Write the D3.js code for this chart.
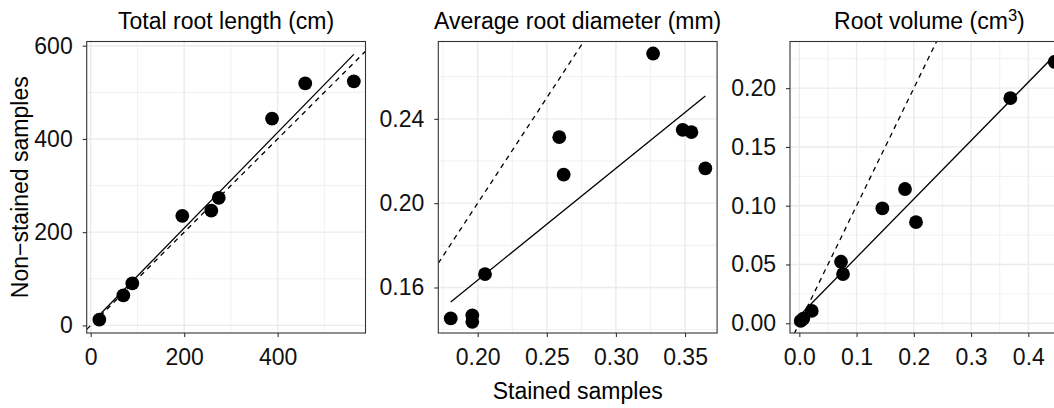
<!DOCTYPE html>
<html><head><meta charset="utf-8">
<script src="https://cdn.jsdelivr.net/npm/d3@7"></script>
<style>
body{margin:0;background:#fff}
text{font-family:"Liberation Sans",Arial,Helvetica,sans-serif}
</style>
</head><body>
<svg id="c" width="1054" height="408"></svg>
<script>
// ---- data ----
const lengthStained      = [18.5, 69.8, 89, 196, 258, 274, 388, 459, 563];
const lengthNonStained   = [12.2, 64.3, 90, 235, 246, 273.6, 443.6, 519, 523.6];
const diameterStained    = [0.1805, 0.1961, 0.1961, 0.2053, 0.259, 0.2622, 0.3269, 0.3483, 0.3546, 0.3647];
const diameterNonStained = [0.1453, 0.1468, 0.1437, 0.1663, 0.2313, 0.2135, 0.2710, 0.2348, 0.2337, 0.2165];
const volumeStained      = [0.0024, 0.007, 0.0217, 0.0728, 0.0763, 0.145, 0.1846, 0.2038, 0.3686, 0.446];
const volumeNonStained   = [0.002, 0.004, 0.0105, 0.0523, 0.0418, 0.0977, 0.1142, 0.086, 0.1915, 0.2224];

const panelTitles = ["Total root length (cm)", "Average root diameter (mm)", "Root volume (cm³)"];
const xAxisLabel = "Stained samples";
const yAxisLabel = "Non\u2212stained samples";

const lengthXTicks = [0, 200, 400];
const lengthYTicks = [0, 200, 400, 600];
const diameterXTicks = [0.20, 0.25, 0.30, 0.35];
const diameterYTicks = [0.16, 0.20, 0.24];
const volumeXTicks = [0.0, 0.1, 0.2, 0.3, 0.4];
const volumeYTicks = [0.00, 0.05, 0.10, 0.15, 0.20];

const lengthXLim = [-8.6, 588], lengthYLim = [-16.3, 609];
const diameterXLim = [0.1715, 0.3732], diameterYLim = [0.1384, 0.2767];
const volumeXLim = [-0.0163, 0.4707], volumeYLim = [-0.0083, 0.2397];

// ---- layout ----
const panelLefts = [86.7, 438.3, 790];
const panelW = 278.8, panelTop = 41.5, panelBottom = 333;
const FS = 23;

const panels = [
  {x: lengthStained, y: lengthNonStained, xt: lengthXTicks, yt: lengthYTicks, xl: lengthXLim, yl: lengthYLim, fx: d3.format("d"), fy: d3.format("d")},
  {x: diameterStained, y: diameterNonStained, xt: diameterXTicks, yt: diameterYTicks, xl: diameterXLim, yl: diameterYLim, fx: d3.format(".2f"), fy: d3.format(".2f")},
  {x: volumeStained, y: volumeNonStained, xt: volumeXTicks, yt: volumeYTicks, xl: volumeXLim, yl: volumeYLim, fx: d3.format(".1f"), fy: d3.format(".2f")}
];

const svg = d3.select("#c");

function minorBreaks(ticks, lim) {
  const step = ticks[1] - ticks[0];
  const out = [];
  for (let i = -1; i < ticks.length; i++) {
    const v = ticks[0] + (i + 0.5) * step;
    if (v >= lim[0] && v <= lim[1]) out.push(v);
  }
  return out;
}

function lm(xs, ys) {
  const mx = d3.mean(xs), my = d3.mean(ys);
  let sxy = 0, sxx = 0;
  xs.forEach((v, i) => { sxy += (v - mx) * (ys[i] - my); sxx += (v - mx) * (v - mx); });
  const b = sxy / sxx;
  return {b, a: my - b * mx};
}

panels.forEach((p, i) => {
  const L = panelLefts[i];
  const xs = d3.scaleLinear().domain(p.xl).range([L, L + panelW]);
  const ys = d3.scaleLinear().domain(p.yl).range([panelBottom, panelTop]);
  const g = svg.append("g");

  const clipId = "clip" + i;
  svg.append("clipPath").attr("id", clipId).append("rect")
    .attr("x", L).attr("y", panelTop).attr("width", panelW).attr("height", panelBottom - panelTop);

  g.append("rect").attr("x", L).attr("y", panelTop).attr("width", panelW).attr("height", panelBottom - panelTop).attr("fill", "#fff");

  const grid = g.append("g").attr("clip-path", `url(#${clipId})`);
  minorBreaks(p.xt, p.xl).forEach(v => grid.append("line")
    .attr("x1", xs(v)).attr("x2", xs(v)).attr("y1", panelTop).attr("y2", panelBottom)
    .attr("stroke", "#ebebeb").attr("stroke-width", 0.7));
  minorBreaks(p.yt, p.yl).forEach(v => grid.append("line")
    .attr("y1", ys(v)).attr("y2", ys(v)).attr("x1", L).attr("x2", L + panelW)
    .attr("stroke", "#ebebeb").attr("stroke-width", 0.7));
  p.xt.forEach(v => grid.append("line")
    .attr("x1", xs(v)).attr("x2", xs(v)).attr("y1", panelTop).attr("y2", panelBottom)
    .attr("stroke", "#ebebeb").attr("stroke-width", 1.4));
  p.yt.forEach(v => grid.append("line")
    .attr("y1", ys(v)).attr("y2", ys(v)).attr("x1", L).attr("x2", L + panelW)
    .attr("stroke", "#ebebeb").attr("stroke-width", 1.4));

  const marks = g.append("g").attr("clip-path", `url(#${clipId})`);
  // 1:1 dashed line
  marks.append("line")
    .attr("x1", xs(p.xl[0])).attr("y1", ys(p.xl[0]))
    .attr("x2", xs(p.xl[1])).attr("y2", ys(p.xl[1]))
    .attr("stroke", "#000").attr("stroke-width", 1.3).attr("stroke-dasharray", "5,4.5");
  // regression line
  const fit = lm(p.x, p.y);
  const x0 = d3.min(p.x), x1 = d3.max(p.x);
  marks.append("line")
    .attr("x1", xs(x0)).attr("y1", ys(fit.a + fit.b * x0))
    .attr("x2", xs(x1)).attr("y2", ys(fit.a + fit.b * x1))
    .attr("stroke", "#000").attr("stroke-width", 1.3);
  // points
  g.append("g").selectAll("circle").data(p.x.map((v, k) => [v, p.y[k]])).join("circle")
    .attr("cx", d => xs(d[0])).attr("cy", d => ys(d[1])).attr("r", 6.9).attr("fill", "#000");

  // border
  g.append("rect").attr("x", L).attr("y", panelTop).attr("width", panelW).attr("height", panelBottom - panelTop)
    .attr("fill", "none").attr("stroke", "#333").attr("stroke-width", 1.1);

  // axes
  const ax = g.append("g").attr("transform", `translate(0,${panelBottom})`)
    .call(d3.axisBottom(xs).tickValues(p.xt).tickFormat(p.fx).tickSize(4).tickPadding(12));
  const ay = g.append("g").attr("transform", `translate(${L},0)`)
    .call(d3.axisLeft(ys).tickValues(p.yt).tickFormat(p.fy).tickSize(4).tickPadding(10));
  [ax, ay].forEach(a => {
    a.select(".domain").remove();
    a.selectAll(".tick line").attr("stroke", "#333").attr("stroke-width", 1.1);
    a.selectAll(".tick text").attr("fill", "#111").style("font-size", FS + "px")
      .style("font-family", '"Liberation Sans",Arial,sans-serif');
  });

  // title
  const t = svg.append("text").attr("x", L + panelW / 2).attr("y", 29)
    .attr("text-anchor", "middle").attr("font-size", FS).attr("fill", "#000");
  const title = panelTitles[i];
  if (title.includes("³")) {
    const parts = title.split("³");
    t.append("tspan").text(parts[0]);
    t.append("tspan").text("3").attr("font-size", FS * 0.72).attr("dy", -8);
    t.append("tspan").text(parts[1]).attr("dy", 8);
  } else {
    t.text(title);
  }
});

svg.append("text").attr("x", panelLefts[1] + panelW / 2).attr("y", 399.3)
  .attr("text-anchor", "middle").attr("font-size", FS).attr("fill", "#000").text(xAxisLabel);
svg.append("text").attr("transform", `translate(28,${(panelTop + panelBottom) / 2}) rotate(-90)`)
  .attr("text-anchor", "middle").attr("font-size", FS).attr("fill", "#000").text(yAxisLabel);
</script>
</body></html>
